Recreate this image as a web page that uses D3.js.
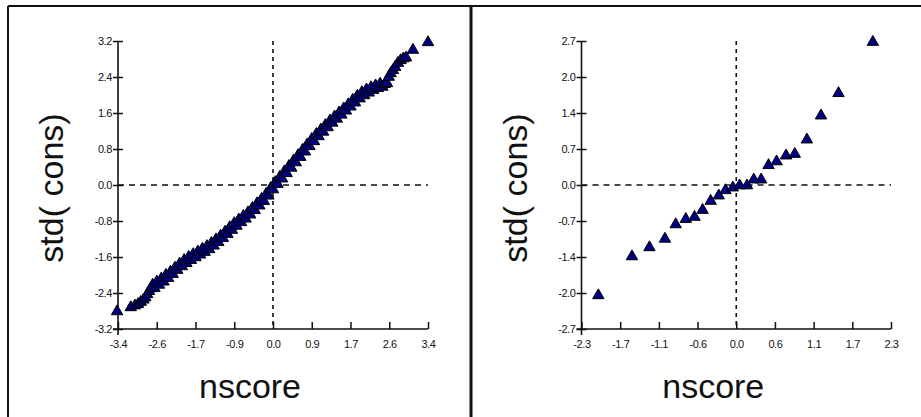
<!DOCTYPE html>
<meta charset="utf-8">
<head>
  <title>nscore vs std(cons)</title>
  <style>
    body { margin: 0; background: #fff; }
    text { font-family: "Liberation Sans", Arial, sans-serif; }
  </style>
</head>
<body>
<script src="https://cdn.jsdelivr.net/npm/d3@7"></script>
<div id="chart"></div>
<script>

  // left panel: normal scores vs standardised values
  var leftNscore = [-3.42,-3.12,-3.03,-2.96,-2.9,-2.84,-2.8,-2.76,-2.72,-2.68,-2.64,-2.6,-2.55,-2.5,-2.45,-2.4,-2.35,-2.3,-2.25,-2.2,-2.15,-2.1,-2.05,-2.0,-1.95,-1.9,-1.85,-1.8,-1.75,-1.7,-1.65,-1.6,-1.55,-1.5,-1.45,-1.4,-1.35,-1.3,-1.25,-1.2,-1.15,-1.1,-1.05,-1.0,-0.95,-0.9,-0.85,-0.8,-0.75,-0.7,-0.65,-0.6,-0.55,-0.5,-0.45,-0.4,-0.35,-0.3,-0.25,-0.2,-0.15,-0.1,-0.05,0.0,0.05,0.1,0.15,0.2,0.25,0.3,0.35,0.4,0.45,0.5,0.55,0.6,0.65,0.7,0.75,0.8,0.85,0.9,0.95,1.0,1.05,1.1,1.15,1.2,1.25,1.3,1.35,1.4,1.45,1.5,1.55,1.6,1.65,1.7,1.75,1.8,1.85,1.9,1.95,2.0,2.05,2.1,2.15,2.2,2.25,2.3,2.35,2.4,2.45,2.5,2.54,2.58,2.63,2.68,2.74,2.8,2.86,2.92,3.07,3.4];
  var leftStd = [-2.81,-2.72,-2.68,-2.65,-2.6,-2.55,-2.5,-2.43,-2.36,-2.3,-2.22,-2.29,-2.15,-2.22,-2.08,-2.15,-2.0,-2.07,-1.93,-1.98,-1.84,-1.89,-1.75,-1.81,-1.67,-1.74,-1.6,-1.67,-1.54,-1.61,-1.48,-1.55,-1.42,-1.49,-1.36,-1.43,-1.29,-1.35,-1.21,-1.27,-1.13,-1.18,-1.04,-1.09,-0.94,-1.0,-0.85,-0.91,-0.77,-0.83,-0.69,-0.75,-0.61,-0.66,-0.51,-0.56,-0.41,-0.46,-0.31,-0.36,-0.2,-0.24,-0.07,-0.1,0.06,0.02,0.18,0.14,0.3,0.26,0.42,0.38,0.54,0.5,0.66,0.62,0.78,0.74,0.9,0.86,1.02,0.97,1.13,1.08,1.23,1.18,1.33,1.28,1.43,1.38,1.52,1.47,1.61,1.56,1.7,1.65,1.79,1.74,1.89,1.83,1.98,1.92,2.06,1.99,2.12,2.05,2.17,2.11,2.21,2.15,2.25,2.18,2.24,2.26,2.4,2.48,2.55,2.62,2.71,2.77,2.81,2.83,3.0,3.17];

  // right panel
  var rightNscore = [-2.05,-1.55,-1.29,-1.06,-0.9,-0.75,-0.62,-0.5,-0.38,-0.26,-0.16,-0.05,0.05,0.16,0.26,0.37,0.48,0.6,0.74,0.87,1.05,1.26,1.52,2.03];
  var rightStd = [-2.07,-1.34,-1.17,-1.01,-0.74,-0.64,-0.6,-0.47,-0.3,-0.2,-0.1,-0.05,-0.01,-0.01,0.1,0.1,0.37,0.44,0.55,0.58,0.85,1.3,1.72,2.68];

  var leftXTicks = [-3.4,-2.55,-1.7,-0.85,0,0.85,1.7,2.55,3.4];
  var leftXLabels = ['-3.4','-2.6','-1.7','-0.9','0.0','0.9','1.7','2.6','3.4'];
  var leftYTicks = [-3.2,-2.4,-1.6,-0.8,0,0.8,1.6,2.4,3.2];
  var leftYLabels = ['-3.2','-2.4','-1.6','-0.8','0.0','0.8','1.6','2.4','3.2'];

  var rightXTicks = [-2.3,-1.725,-1.15,-0.575,0,0.575,1.15,1.725,2.3];
  var rightXLabels = ['-2.3','-1.7','-1.1','-0.6','0.0','0.6','1.1','1.7','2.3'];
  var rightYTicks = [-2.7,-2.025,-1.35,-0.675,0,0.675,1.35,2.025,2.7];
  var rightYLabels = ['-2.7','-2.0','-1.4','-0.7','0.0','0.7','1.4','2.0','2.7'];

  var width = 921;
  var height = 417;
  var ink = '#111';

  var svg = d3.select('#chart')
    .append('svg')
    .attr('width', width)
    .attr('height', height);

  // frame
  svg.append('line').attr('x1', 8).attr('x2', width).attr('y1', 6).attr('y2', 6)
    .attr('stroke', ink).attr('stroke-width', 2);
  svg.append('line').attr('x1', 8).attr('x2', 8).attr('y1', 6).attr('y2', height)
    .attr('stroke', ink).attr('stroke-width', 2);
  svg.append('line').attr('x1', 471).attr('x2', 471).attr('y1', 6).attr('y2', height)
    .attr('stroke', ink).attr('stroke-width', 3);

  var triangle = d3.symbol().type(d3.symbolTriangle).size(56);

  function drawPanel(p) {
    var x = d3.scaleLinear().domain(p.xDomain).range([p.left, p.right]);
    var y = d3.scaleLinear().domain(p.yDomain).range([329, 41]);
    var g = svg.append('g');

    // dashed zero lines
    g.append('line')
      .attr('x1', x(0)).attr('x2', x(0))
      .attr('y1', y.range()[1]).attr('y2', y.range()[0])
      .attr('stroke', ink).attr('stroke-width', 1.6)
      .attr('stroke-dasharray', '4,4');
    g.append('line')
      .attr('x1', p.left).attr('x2', p.right)
      .attr('y1', y(0)).attr('y2', y(0))
      .attr('stroke', ink).attr('stroke-width', 1.6)
      .attr('stroke-dasharray', '6,5');

    var yAxis = g.append('g')
      .attr('transform', 'translate(' + p.left + ',0)')
      .call(d3.axisLeft(y)
        .tickValues(p.yTicks)
        .tickFormat(function(d, i) { return p.yLabels[i]; })
        .tickSize(5)
        .tickPadding(1));
    yAxis.select('.domain').remove();
    yAxis.selectAll('.tick line').attr('x1', 5).attr('stroke', ink).attr('stroke-width', 1.5);

    var xAxis = g.append('g')
      .attr('transform', 'translate(0,329)')
      .call(d3.axisBottom(x)
        .tickValues(p.xTicks)
        .tickFormat(function(d, i) { return p.xLabels[i]; })
        .tickSize(-7)
        .tickPadding(11));
    xAxis.select('.domain').remove();
    xAxis.selectAll('.tick line').attr('stroke', ink).attr('stroke-width', 1.5);

    g.selectAll('.tick text')
      .attr('fill', ink)
      .style('font-size', '11px')
      .style('letter-spacing', '-0.4px')
      .style('font-family', '"Liberation Sans", Arial, sans-serif');

    // axis lines
    g.append('line')
      .attr('x1', p.left).attr('x2', p.left).attr('y1', 41).attr('y2', 335)
      .attr('stroke', ink).attr('stroke-width', 1.6);
    g.append('line')
      .attr('x1', p.left - 5).attr('x2', p.right).attr('y1', 329).attr('y2', 329)
      .attr('stroke', ink).attr('stroke-width', 1.6);

    g.selectAll('path.pt')
      .data(p.xs)
      .enter()
      .append('path')
      .attr('class', 'pt')
      .attr('d', triangle)
      .attr('transform', function(d, i) {
        return 'translate(' + x(d) + ',' + y(p.ys[i]) + ')';
      })
      .attr('fill', '#000080')
      .attr('stroke', '#000')
      .attr('stroke-width', 1);

    g.append('text')
      .attr('transform', 'translate(' + p.titleX + ',188) rotate(-90)')
      .attr('text-anchor', 'middle')
      .attr('fill', ink)
      .style('font-size', '34px')
      .text('std( cons)');

    g.append('text')
      .attr('x', (p.left + p.right) / 2 - 23)
      .attr('y', 398)
      .attr('text-anchor', 'middle')
      .attr('fill', ink)
      .style('font-size', '34px')
      .text('nscore');
  }

  drawPanel({
    left: 118, right: 428, xDomain: [-3.4, 3.4], yDomain: [-3.2, 3.2],
    xTicks: leftXTicks, xLabels: leftXLabels, yTicks: leftYTicks, yLabels: leftYLabels,
    xs: leftNscore, ys: leftStd, titleX: 63
  });

  drawPanel({
    left: 581.5, right: 891, xDomain: [-2.3, 2.3], yDomain: [-2.7, 2.7],
    xTicks: rightXTicks, xLabels: rightXLabels, yTicks: rightYTicks, yLabels: rightYLabels,
    xs: rightNscore, ys: rightStd, titleX: 527
  });

</script>
</body>
